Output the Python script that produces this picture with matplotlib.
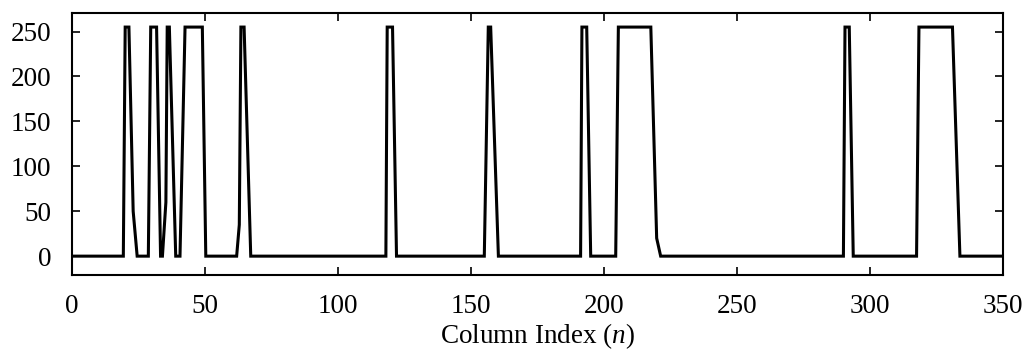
"""Column profile: intensity along one image row vs column index."""
import matplotlib
matplotlib.use("Agg")
import matplotlib.pyplot as plt

# breakpoints of the profile (column index, intensity)
col_n = [0, 19.3, 20, 21.4, 23, 24.5, 28.7, 29.6, 31.8, 33.3, 34, 35.3, 35.8,
         36.6, 39, 40.6, 42.5, 49, 50.3, 61.9, 62.9, 63.5, 64.7, 67.2,
         118, 118.5, 120.5, 122, 155, 156.5, 157.4, 160.3,
         191.2, 191.7, 193.5, 195, 204.4, 205.4, 217.6, 219.8, 221.3,
         290, 290.6, 292.2, 293.7, 317.5, 318.4, 331, 333.8, 350]
intensity = [0, 0, 255, 255, 50, 0, 0, 255, 255, 0, 0, 60, 255,
             255, 0, 0, 255, 255, 0, 0, 35, 255, 255, 0,
             0, 255, 255, 0, 0, 255, 255, 0,
             0, 255, 255, 0, 0, 255, 255, 20, 0,
             0, 255, 255, 0, 0, 255, 255, 0, 0]

x_ticks = [0, 50, 100, 150, 200, 250, 300, 350]
y_ticks = [0, 50, 100, 150, 200, 250]

plt.rcParams["font.family"] = ["Liberation Serif", "DejaVu Serif"]
plt.rcParams["mathtext.fontset"] = "custom"
plt.rcParams["mathtext.it"] = "Liberation Serif:italic"
plt.rcParams["mathtext.rm"] = "Liberation Serif"

fig = plt.figure(figsize=(10.24, 3.51), dpi=100)
ax = fig.add_axes([0.0703, 0.2165, 0.9092, 0.7473])
ax.plot(col_n, intensity, color="black", lw=2.2, solid_joinstyle="miter")

ax.set_xlim(0, 350)
ax.set_ylim(-21, 271)
ax.set_xticks(x_ticks)
ax.set_yticks(y_ticks)
ax.tick_params(direction="in", length=6, width=1.2, labelsize=19.5,
               top=True, right=True)
ax.tick_params(axis="y", pad=15)
ax.tick_params(axis="x", pad=14)
for s in ax.spines.values():
    s.set_linewidth(1.5)
ax.set_xlabel(r"Column Index ($n$)", fontsize=19.5, labelpad=1)

fig.savefig("out.png", dpi=100)
